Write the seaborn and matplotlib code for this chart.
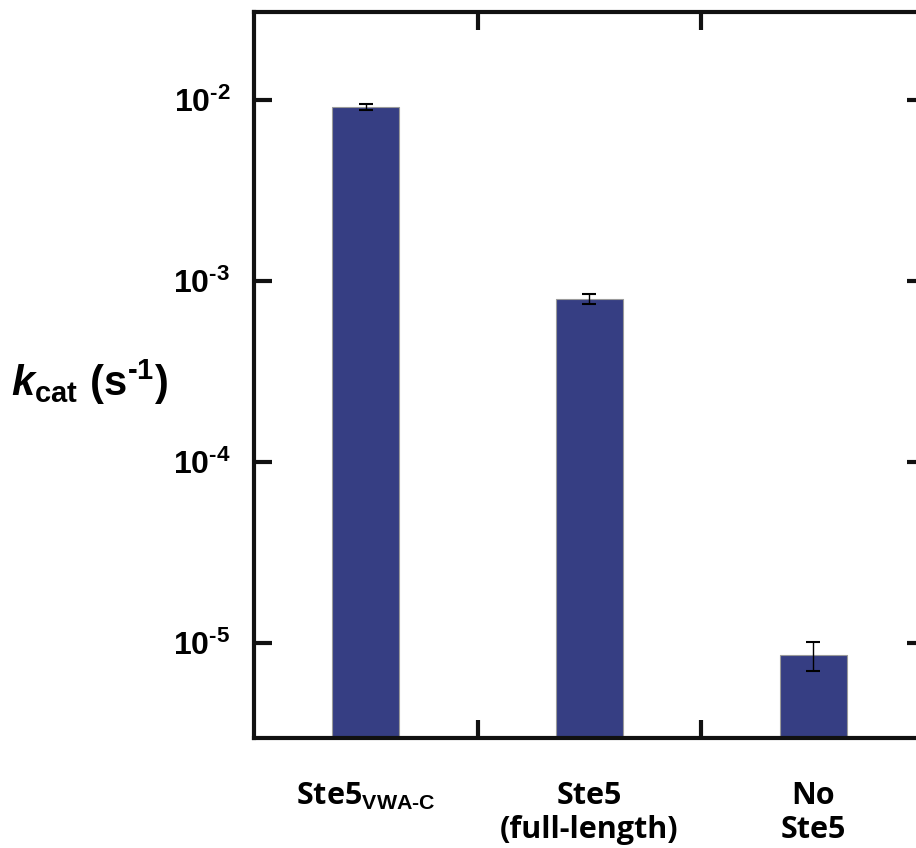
import numpy as np
import matplotlib
matplotlib.use("Agg")
import matplotlib.pyplot as plt
import matplotlib.ticker as mticker
import seaborn as sns

# datos
categorias = ["Ste5$_{\\mathbf{VWA\\text{-}C}}$", "Ste5\n(full-length)", "No\nSte5"]
kcat = [9.15e-3, 7.96e-4, 8.55e-6]
kcat_err = [0.35e-3, 0.055e-3, 1.55e-6]
yticks = [1e-5, 1e-4, 1e-3, 1e-2]

sns.set_style("white")
plt.rcParams["mathtext.fontset"] = "custom"
plt.rcParams["mathtext.rm"] = "Liberation Sans:bold"
plt.rcParams["mathtext.bf"] = "Liberation Sans:bold"
plt.rcParams["mathtext.it"] = "Liberation Sans:bold:italic"
plt.rcParams["font.family"] = ["Open Sans", "DejaVu Sans"]
plt.rcParams["text.color"] = "black"
plt.rcParams["xtick.color"] = "black"
plt.rcParams["ytick.color"] = "black"

fig = plt.figure(figsize=(9.16, 8.48), dpi=100)
ax = fig.add_axes([0.2773, 0.1297, 0.7325, 0.8561])

sns.barplot(x=[0, 1, 2], y=kcat, width=0.3, color="#363E83", saturation=1,
            edgecolor="#9a9a9a", linewidth=0.8, ax=ax)
ax.errorbar([0, 1, 2], kcat, yerr=kcat_err, fmt="none", ecolor="black",
            elinewidth=1.0, capsize=5, capthick=1.5)

ax.set_yscale("log")
ax.set_ylim(2.98e-6, 3.06e-2)
ax.set_xlim(-0.5, 2.5)

ax.yaxis.set_major_locator(mticker.FixedLocator(yticks))
ax.yaxis.set_minor_locator(mticker.NullLocator())
ax.set_yticklabels([f"$\\mathbf{{10^{{\\text{{-}}{-int(np.log10(v))}}}}}$" for v in yticks],
                   fontsize=23, color="black")
ax.tick_params(axis="y", which="major", direction="in", length=13, width=3,
               left=True, right=True, pad=17, color="#111111")

# ticks entre categorias, etiquetas en el centro de cada barra
ax.xaxis.set_major_locator(mticker.FixedLocator([0.5, 1.5]))
ax.xaxis.set_major_formatter(mticker.NullFormatter())
ax.xaxis.set_minor_locator(mticker.FixedLocator([0, 1, 2]))
ax.xaxis.set_minor_formatter(mticker.FixedFormatter(categorias))
ax.tick_params(axis="x", which="major", direction="in", length=13, width=3,
               bottom=True, top=True, color="#111111")
ax.tick_params(axis="x", which="minor", length=0, pad=31, labelsize=22,
               labelcolor="black")
for lbl in ax.get_xticklabels(minor=True):
    lbl.set_fontweight("bold")
    lbl.set_linespacing(1.15)
    lbl.set_verticalalignment("top")

for sp in ax.spines.values():
    sp.set_visible(True)
    sp.set_linewidth(3)
    sp.set_color("#111111")

ax.set_xlabel("")
ax.set_ylabel("$\\mathit{k}_{\\mathbf{cat}}\\ \\mathbf{(s^{\\text{-}1})}$", fontsize=30,
              rotation=0, labelpad=0, ha="left", va="center", color="black")
ax.yaxis.set_label_coords(-0.362, 0.49)

fig.savefig("out.png", dpi=100)
